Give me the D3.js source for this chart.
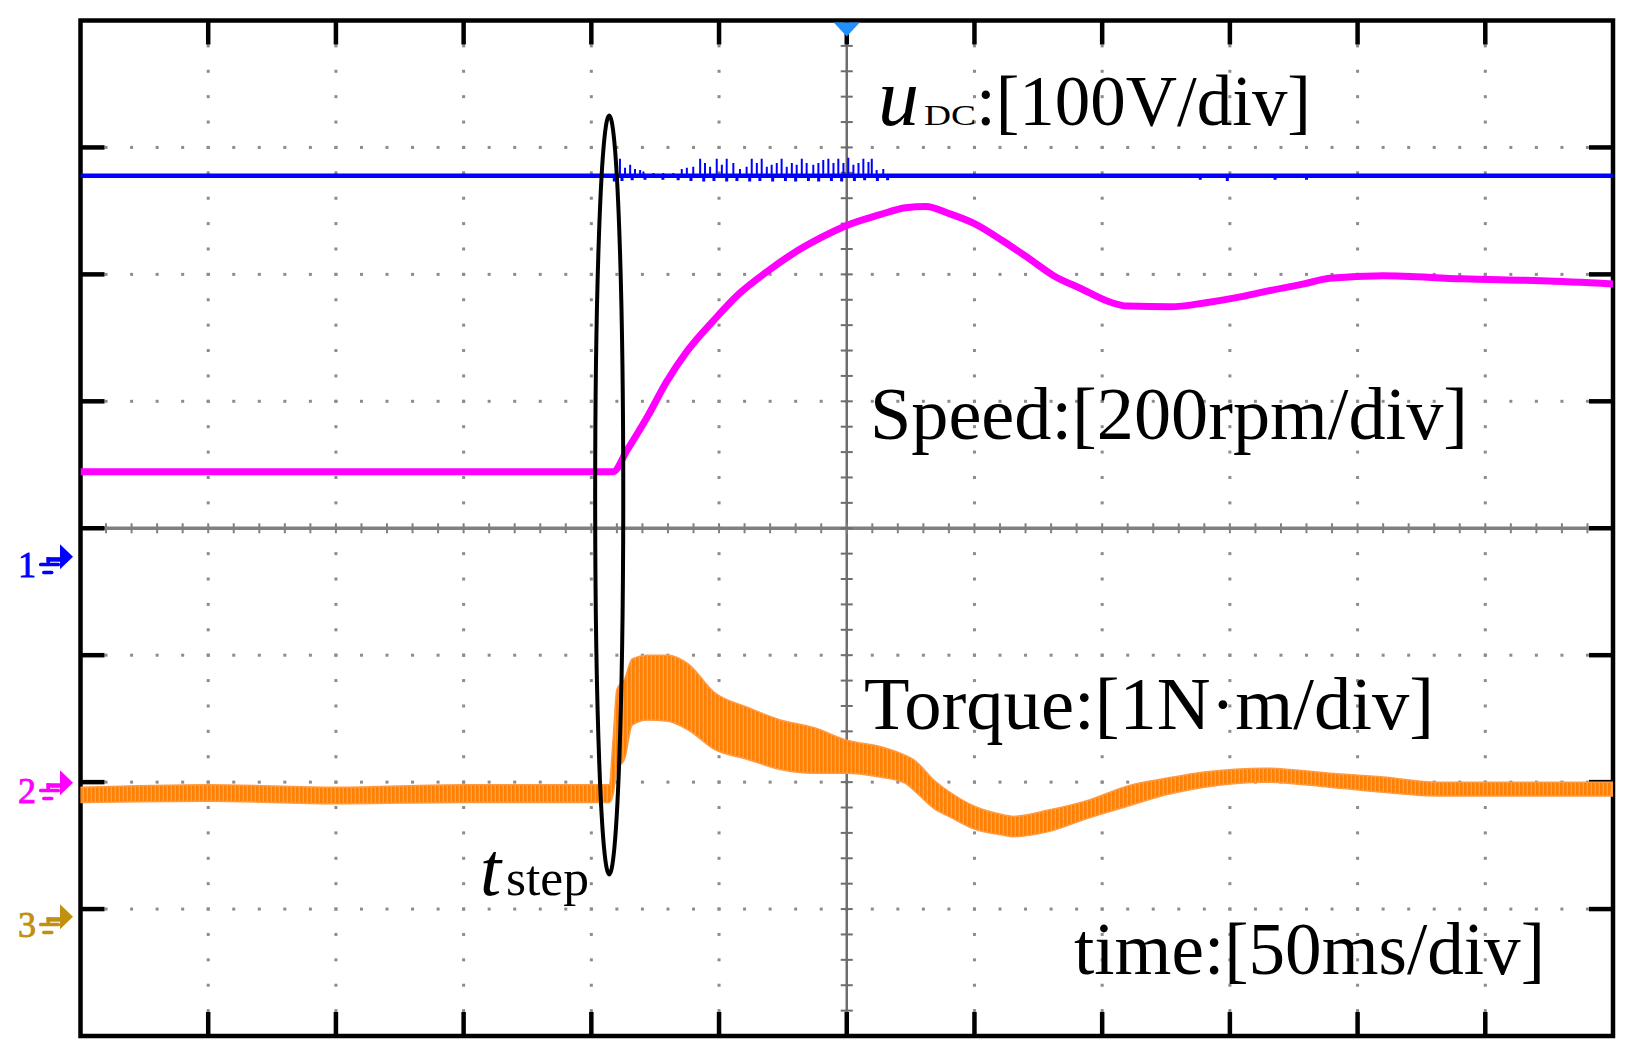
<!DOCTYPE html>
<html>
<head>
<meta charset="utf-8">
<script src="https://cdn.jsdelivr.net/npm/d3@7"></script>
<style>
  body { margin: 0; background: #fff; }
</style>
</head>
<body>
<div id="chart"></div>
<script>
/* DATA (time in ms, trigger at 0) */

// channel settings: units per division and ground level in divisions
const chLabels = ['1', '2', '3']
const chScale = [100, 200, 1]          // V/div, rpm/div, N.m/div
const chGround = [-0.224, -2.005, -3.06]

// ch1: DC link voltage [V]
const udcT = [-300, 300]
const udcV = [300, 300]
const udcSpikeT = [-88.8, -86.8, -84.8, -82.9, -80.9, -79.6, -75.7, -71.8, -67.9, -64.6, -62.6, -60.1,
  -57.4, -55.5, -53.5, -50.9, -48.9, -47.0, -44.4, -41.8, -39.2, -37.2, -35.2, -33.3, -31.3, -29.4,
  -27.4, -25.5, -23.5, -21.5, -19.6, -17.6, -15.7, -13.1, -11.1, -9.2, -7.2, -5.2, -3.3, -1.3,
  0.6, 2.6, 4.6, 6.5, 8.5, 9.8, 11.7, 14.3]
const udcSpikeV = [313.4, 306.3, 308.7, 305.5, 304.7, 303.4, 302.3, 302.3, 302.3, 305.5, 306.3, 307.1,
  313.4, 310.2, 307.1, 313.4, 308.7, 313.4, 310.2, 305.5, 307.1, 313.4, 310.2, 313.4, 307.1, 308.7,
  310.2, 313.4, 307.1, 310.2, 308.7, 313.4, 310.2, 308.7, 310.2, 312.6, 313.4, 310.2, 313.4, 310.2,
  314.2, 308.7, 310.2, 313.4, 311.0, 313.4, 304.7, 305.5]
const udcDipT = [-91, -88, -84, -79, -72, -66, -61, -56, -52, -47, -43, -38, -34, -29, -24, -20, -15,
  -11, -6, -2, 3, 7, 12, 16, 138.4, 149, 167.7, 180]
const udcDipV = [295.5, 296.0, 296.5, 297.0, 297.0, 296.5, 296.0, 295.5, 296.0, 295.5, 296.0, 295.5,
  296.0, 295.5, 296.0, 295.5, 296.0, 295.5, 296.0, 295.5, 296.0, 296.5, 296.0, 296.5, 297.0, 296.0, 297.0, 297.0]

// ch2: speed [rpm]
const speedT = [-300, -200, -91.5, -86, -78, -70.5, -62.5, -52, -42, -31, -21, -10.5, 0, 13, 23, 31, 40, 50,
  61, 71, 81, 92, 102, 110, 127, 140, 152, 165, 179, 189, 210, 241, 272, 300]
const speedV = [490, 490, 490, 524, 577, 632, 680, 729, 771, 806, 834, 858, 878, 895, 906, 908, 897, 881,
  854, 827, 799, 778, 759, 751, 750, 756, 764, 775, 786, 795, 799, 794, 791, 786]

// ch3: torque [N.m], upper and lower envelope of the noisy trace
const torqueT = [-300, -250, -200, -150, -93, -91.5, -90, -87, -84, -78, -70, -62, -52, -39, -26, -13,
  0, 13, 23, 26, 35, 39, 50, 62, 65, 79, 95, 110, 125, 140, 164, 189, 210, 231, 252, 272, 300]
const torqueHi = [1.02, 1.04, 1.02, 1.04, 1.04, 1.39, 1.79, 1.87, 2.03, 2.06, 2.06, 1.99, 1.77, 1.65,
  1.55, 1.49, 1.39, 1.34, 1.27, 1.24, 1.06, 1.00, 0.87, 0.80, 0.79, 0.84, 0.92, 1.03, 1.09, 1.14,
  1.17, 1.13, 1.10, 1.06, 1.06, 1.06, 1.06]
const torqueLo = [0.90, 0.91, 0.89, 0.90, 0.90, 0.96, 1.16, 1.24, 1.51, 1.55, 1.54, 1.47, 1.32, 1.24,
  1.16, 1.13, 1.13, 1.10, 1.05, 1.00, 0.84, 0.80, 0.69, 0.64, 0.63, 0.67, 0.78, 0.87, 0.96, 1.02,
  1.06, 1.02, 0.98, 0.95, 0.95, 0.95, 0.95]

// step instant annotation
const stepT = -93


/* SET UP */
const width = 1632, height = 1054
const pL = 80.5, pR = 1613, pT = 20.5, pB = 1036
const chColors = ['#0000ff', '#ff00ff', '#c09010']
const font = '"Liberation Serif", "Times New Roman", serif'

const x = d3.scaleLinear().domain([-300, 300]).range([pL, pR])
const xDiv = d3.scaleLinear().domain([-6, 6]).range([pL, pR])
const yDiv = d3.scaleLinear().domain([-4, 4]).range([pB, pT])
const yCh = (ch, v) => yDiv(v / chScale[ch] + chGround[ch])

const svg = d3.select('#chart').append('svg')
  .attr('xmlns', 'http://www.w3.org/2000/svg')
  .attr('width', width)
  .attr('height', height)
  .style('background', '#fff')

const defs = svg.append('defs')
defs.append('clipPath').attr('id', 'plot')
  .append('rect').attr('x', pL).attr('y', pT).attr('width', pR - pL).attr('height', pB - pT)
// streaky fill for the noisy torque trace
const pat = defs.append('pattern').attr('id', 'noise')
  .attr('patternUnits', 'userSpaceOnUse').attr('width', 4).attr('height', 8)
pat.append('rect').attr('width', 4).attr('height', 8).attr('fill', '#ffa04a')
pat.append('rect').attr('width', 2.6).attr('height', 8).attr('fill', '#ff7f00')


/* GRID */
const grid = svg.append('g')
const dots = []
d3.range(-5, 6).filter(d => d !== 0).forEach(function(c) {
  d3.range(1, 40).forEach(k => dots.push([xDiv(c), yDiv(-4 + k / 5)]))
})
d3.range(-3, 4).filter(d => d !== 0).forEach(function(r) {
  d3.range(1, 60).forEach(k => dots.push([xDiv(-6 + k / 5), yDiv(r)]))
})
grid.selectAll('rect.dot').data(dots).enter().append('rect')
  .attr('class', 'dot')
  .attr('x', d => d[0] - 1.5).attr('y', d => d[1] - 1.5)
  .attr('width', 3).attr('height', 3)
  .attr('fill', '#8c8c8c')

// centre cross with minor ticks
grid.append('line')
  .attr('x1', pL).attr('x2', pR).attr('y1', yDiv(0)).attr('y2', yDiv(0))
  .attr('stroke', '#808080').attr('stroke-width', 3.5)
grid.append('line')
  .attr('x1', xDiv(0)).attr('x2', xDiv(0)).attr('y1', pT).attr('y2', pB)
  .attr('stroke', '#6e6e6e').attr('stroke-width', 2.5)
grid.selectAll('line.hminor').data(d3.range(1, 60)).enter().append('line')
  .attr('class', 'hminor')
  .attr('x1', k => xDiv(-6 + k / 5)).attr('x2', k => xDiv(-6 + k / 5))
  .attr('y1', yDiv(0) - 5).attr('y2', yDiv(0) + 5)
  .attr('stroke', '#808080').attr('stroke-width', 2)
grid.selectAll('line.vminor').data(d3.range(1, 40)).enter().append('line')
  .attr('class', 'vminor')
  .attr('x1', xDiv(0) - 6).attr('x2', xDiv(0) + 6)
  .attr('y1', k => yDiv(-4 + k / 5)).attr('y2', k => yDiv(-4 + k / 5))
  .attr('stroke', '#6e6e6e').attr('stroke-width', 2)

// frame and major ticks
const frame = svg.append('g').attr('stroke', '#000').attr('stroke-width', 4.5)
frame.append('rect')
  .attr('x', pL).attr('y', pT).attr('width', pR - pL).attr('height', pB - pT)
  .attr('fill', 'none')
d3.range(-5, 6).forEach(function(c) {
  frame.append('line').attr('x1', xDiv(c)).attr('x2', xDiv(c)).attr('y1', pT).attr('y2', pT + 24)
  frame.append('line').attr('x1', xDiv(c)).attr('x2', xDiv(c)).attr('y1', pB).attr('y2', pB - 24)
})
d3.range(-3, 4).forEach(function(r) {
  frame.append('line').attr('x1', pL).attr('x2', pL + 24).attr('y1', yDiv(r)).attr('y2', yDiv(r))
  frame.append('line').attr('x1', pR).attr('x2', pR - 24).attr('y1', yDiv(r)).attr('y2', yDiv(r))
})

// trigger marker
svg.append('path')
  .attr('d', 'M' + (x(0) - 13) + ',' + (pT + 2) + 'L' + (x(0) + 13) + ',' + (pT + 2) + 'L' + x(0) + ',' + (pT + 16) + 'Z')
  .attr('fill', '#1e90ff')


/* TRACES */
const traces = svg.append('g').attr('clip-path', 'url(#plot)')

// ch1 uDC
const udcLine = d3.line().x(d => x(d[0])).y(d => yCh(0, d[1]))
traces.append('path')
  .datum(d3.zip(udcT, udcV))
  .attr('d', udcLine)
  .attr('fill', 'none').attr('stroke', chColors[0]).attr('stroke-width', 4.5)
traces.selectAll('line.spike').data(d3.zip(udcSpikeT, udcSpikeV)).enter().append('line')
  .attr('class', 'spike')
  .attr('x1', d => x(d[0])).attr('x2', d => x(d[0]))
  .attr('y1', yCh(0, 300)).attr('y2', d => yCh(0, d[1]))
  .attr('stroke', chColors[0]).attr('stroke-width', 2)
traces.selectAll('line.dip').data(d3.zip(udcDipT, udcDipV)).enter().append('line')
  .attr('class', 'dip')
  .attr('x1', d => x(d[0])).attr('x2', d => x(d[0]))
  .attr('y1', yCh(0, 300)).attr('y2', d => yCh(0, d[1]))
  .attr('stroke', chColors[0]).attr('stroke-width', 3)

// ch3 torque
const torqueArea = d3.area()
  .x(d => x(d[0]))
  .y0(d => yCh(2, d[2]))
  .y1(d => yCh(2, d[1]))
  .curve(d3.curveMonotoneX)
traces.append('path')
  .datum(d3.zip(torqueT, torqueHi, torqueLo))
  .attr('d', torqueArea)
  .attr('fill', 'url(#noise)')
  .attr('stroke', '#ff9a40').attr('stroke-width', 1.5)

// ch2 speed
const speedLine = d3.line().x(d => x(d[0])).y(d => yCh(1, d[1])).curve(d3.curveMonotoneX)
traces.append('path')
  .datum(d3.zip(speedT, speedV))
  .attr('d', speedLine)
  .attr('fill', 'none').attr('stroke', chColors[1]).attr('stroke-width', 7)


/* ANNOTATIONS */
svg.append('ellipse')
  .attr('cx', x(stepT)).attr('cy', yDiv(0.262))
  .attr('rx', x(stepT + 5.5) - x(stepT)).attr('ry', yDiv(0) - yDiv(2.99))
  .attr('fill', 'none').attr('stroke', '#000').attr('stroke-width', 4)

const txt = svg.append('g').attr('font-family', font).attr('fill', '#000')
txt.append('text').attr('x', 878).attr('y', 125).attr('font-size', 82).attr('font-style', 'italic').text('u')
txt.append('text').attr('x', 924).attr('y', 125).attr('font-size', 30)
  .attr('textLength', 52).attr('lengthAdjust', 'spacingAndGlyphs').text('DC')
txt.append('text').attr('x', 976).attr('y', 125).attr('font-size', 72)
  .attr('textLength', 335).attr('lengthAdjust', 'spacingAndGlyphs').text(':[100V/div]')
txt.append('text').attr('x', 870).attr('y', 439).attr('font-size', 73)
  .attr('textLength', 598).attr('lengthAdjust', 'spacingAndGlyphs').text('Speed:[200rpm/div]')
txt.append('text').attr('x', 864).attr('y', 729).attr('font-size', 73)
  .attr('textLength', 570).attr('lengthAdjust', 'spacingAndGlyphs').text('Torque:[1N·m/div]')
txt.append('text').attr('x', 1074).attr('y', 973.5).attr('font-size', 73)
  .attr('textLength', 471).attr('lengthAdjust', 'spacingAndGlyphs').text('time:[50ms/div]')
txt.append('text').attr('x', 480).attr('y', 895).attr('font-size', 76).attr('font-style', 'italic').text('t')
txt.append('text').attr('x', 506).attr('y', 895).attr('font-size', 50)
  .attr('textLength', 83).attr('lengthAdjust', 'spacingAndGlyphs').text('step')

// channel ground markers
chLabels.forEach(function(lab, i) {
  const yt = yDiv(chGround[i])
  const g = svg.append('g').attr('fill', chColors[i])
  g.append('text').attr('x', 18).attr('y', yt + 20)
    .attr('font-family', font).attr('font-size', 36)
    .attr('stroke', chColors[i]).attr('stroke-width', 0.9)
    .text(lab)
  g.append('path').attr('d', 'M60,' + (yt - 12.5) + 'L73,' + yt + 'L60,' + (yt + 12.5) + 'Z')
  g.append('rect').attr('x', 46.5).attr('y', yt + 0.5).attr('width', 14).attr('height', 4.5)
  g.append('rect').attr('x', 46.5).attr('y', yt + 0.5).attr('width', 3.5).attr('height', 8)
  g.append('rect').attr('x', 39).attr('y', yt + 6).attr('width', 21).attr('height', 3.5).attr('rx', 1.5)
  g.append('rect').attr('x', 42).attr('y', yt + 14).attr('width', 11.5).attr('height', 3.5).attr('rx', 1.7)
})
</script>
</body>
</html>
